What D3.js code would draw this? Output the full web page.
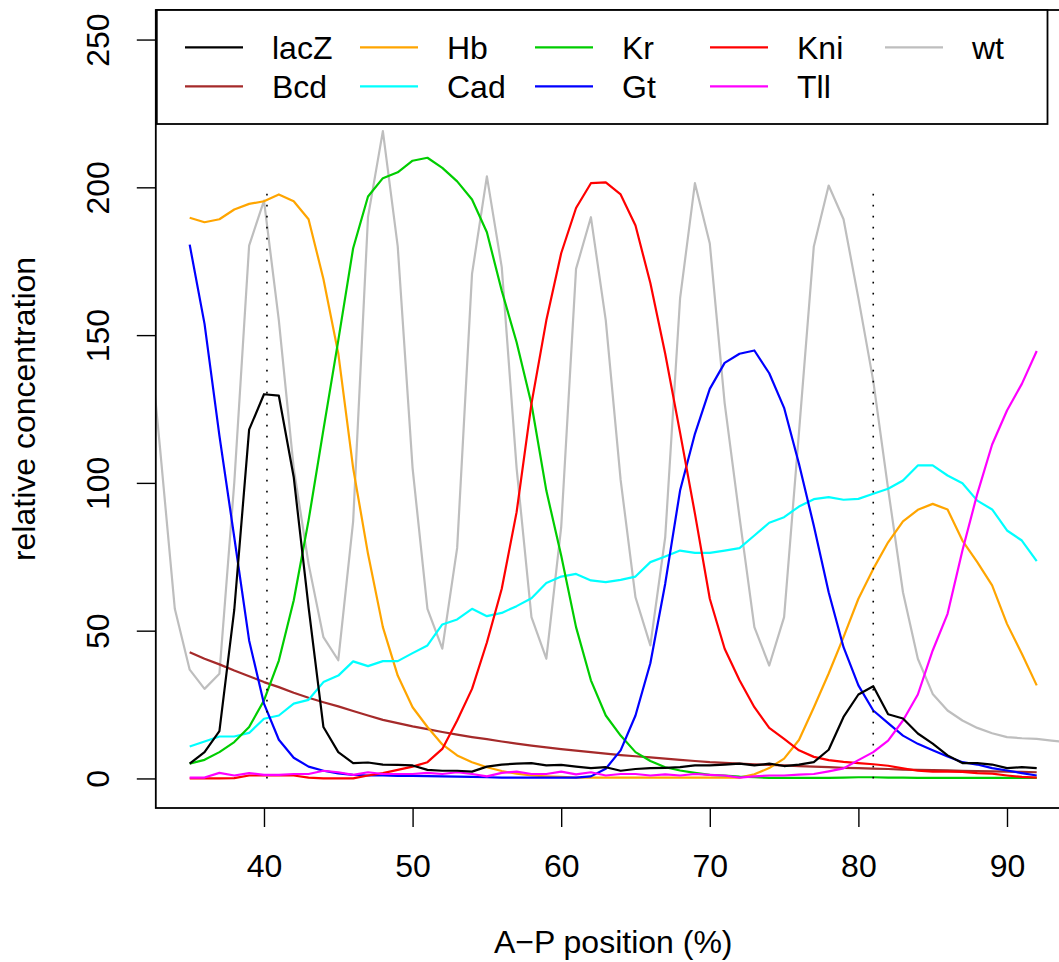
<!DOCTYPE html>
<html>
<head>
<meta charset="utf-8">
<script src="https://d3js.org/d3.v7.min.js"></script>
<style>
  body { margin: 0; background: #fff; }
  text { font-family: "Liberation Sans", Arial, sans-serif; }
</style>
</head>
<body>
<div id="chart"></div>
<script>
// A-P positions (%) of the measured nuclei
const positions = d3.range(35, 93);
const wtPositions = d3.range(32, 95);

// relative concentrations
const lacZ = [5.0, 8.9, 16, 57, 118, 130, 129.5, 102, 58, 17.4, 8.9, 5.2, 5.4, 4.7, 4.6, 4.4, 2.9, 2.6, 2.6, 2.3,
  4.0, 4.7, 5.0, 5.2, 4.4, 4.6, 4.0, 3.5, 3.8, 2.6, 3.2, 3.5, 3.6, 3.8, 4.4, 4.4, 4.7, 5.0, 4.4, 5.0,
  4.2, 4.7, 5.5, 9.7, 20.8, 28.4, 31.2, 21.7, 20.3, 15.2, 11.8, 7.8, 5.2, 5.2, 4.7, 3.5, 3.8, 3.5];
const Bcd = [42.7, 40.5, 38.6, 36.5, 34.6, 32.6, 30.9, 29.0, 27.3, 25.8, 24.4, 22.8, 21.3, 19.8, 18.7, 17.6, 16.7, 15.7, 14.8, 14.0,
  13.3, 12.5, 11.8, 11.1, 10.5, 9.9, 9.4, 8.9, 8.4, 7.9, 7.5, 7.1, 6.7, 6.3, 5.9, 5.5, 5.3, 5.0, 4.8, 4.6,
  4.4, 4.2, 4.0, 3.8, 3.6, 3.5, 3.3, 3.2, 3.0, 2.9, 2.8, 2.7, 2.6, 2.5, 2.4, 2.3, 2.2, 2.1];
const Hb = [189.7, 188.2, 189.2, 192.5, 194.4, 195.3, 197.6, 195.3, 189.2, 169, 143.8, 105, 76, 51.2, 34.8, 24.1, 17.4, 11.5, 7.8, 5.5,
  3.8, 2.5, 1.6, 1.0, 0.7, 0.5, 0.3, 0.3, 0.3, 0.3, 0.3, 0.3, 0.3, 0.3, 0.3, 0.3, 0.3, 0.3, 1.4, 3.5,
  6.7, 13, 24, 35.5, 47.8, 60.8, 70.9, 79.9, 87, 90.9, 92.9, 91, 80.5, 73.2, 65.3, 52.3, 42.2, 31.5];
const Cad = [10.8, 12.5, 14.2, 14.2, 15.4, 20.2, 21.3, 25.3, 26.6, 32.6, 34.8, 39.6, 38.0, 39.7, 39.7, 42.4, 45, 52.1, 53.8, 57.4,
  54.9, 56, 58.3, 61, 66.1, 68.3, 69.2, 67, 66.4, 67.2, 68.3, 73.2, 75.1, 77.1, 76.3, 76.3, 77.1, 77.9, 82.2, 86.5,
  88.4, 92, 94.5, 95.2, 94.3, 94.6, 96.3, 98, 100.8, 105.9, 105.9, 102.5, 99.9, 94, 91, 83.9, 80.5, 73.5];
const Kr = [5.0, 6.3, 8.9, 12.3, 17.4, 26.4, 39.9, 60.2, 87.3, 118, 148.2, 179.4, 196.9, 203.1, 205.1, 209, 210, 206.6, 202, 195.9,
  184.8, 165, 147.6, 126.7, 97.4, 75.4, 51.2, 33.2, 21.3, 14.5, 8.9, 5.9, 3.8, 2.7, 1.9, 1.2, 1.0, 0.6, 0.4, 0.2,
  0.2, 0.2, 0.2, 0.2, 0.3, 0.4, 0.4, 0.3, 0.3, 0.2, 0.2, 0.2, 0.2, 0.2, 0.2, 0.2, 0.2, 0.2];
const Gt = [180.6, 153.8, 116, 81.6, 46.7, 25.3, 13.1, 7.0, 4.0, 2.6, 1.7, 1.2, 1.0, 1.0, 0.9, 0.9, 0.8, 0.7, 0.6, 0.5,
  0.4, 0.3, 0.3, 0.3, 0.3, 0.3, 0.3, 0.7, 3.3, 9.5, 21.3, 39, 65.9, 97.4, 116.6, 131.8, 140.6, 143.7, 144.8, 137.1,
  125.4, 106.5, 85.5, 63, 44.4, 31.5, 23, 18.7, 14.5, 11.7, 9.5, 7.4, 5.5, 4.7, 3.5, 2.7, 1.8, 1.0];
const Kni = [0, 0, 0, 0.1, 1.0, 1.0, 1.0, 1.0, 0.3, 0, 0, 0, 1.0, 1.8, 2.9, 4.0, 5.5, 10, 19.6, 30.3,
  46, 64.2, 90.1, 126.8, 155, 177.7, 193, 201.4, 201.7, 197.6, 187.1, 167.6, 143.7, 117, 89.6, 60.8, 43.9, 33.2, 24.1, 17.1,
  13.4, 9.5, 7.3, 6.2, 5.6, 5.2, 4.8, 4.3, 3.4, 2.6, 2.3, 2.3, 2.2, 1.8, 1.6, 1.0, 0.5, 0.3];
const Tll = [0.3, 0.3, 1.9, 1.0, 1.8, 1.2, 1.2, 1.5, 1.5, 2.6, 2.1, 1.2, 2.1, 1.5, 1.5, 1.5, 1.9, 1.5, 2.1, 1.5,
  0.7, 1.9, 2.3, 1.5, 1.5, 2.3, 1.4, 2.1, 1.0, 1.5, 1.5, 1.0, 1.4, 1.0, 1.5, 1.2, 1.0, 0.3, 0.7, 1.0,
  1.0, 1.3, 1.5, 2.4, 3.4, 6.2, 8.9, 12.8, 19.6, 28.4, 43.3, 55.7, 77.1, 96.3, 113, 124.5, 133.5, 144.6];
const wt = [165, 112, 57.4, 36.8, 30.3, 35.4, 100, 180.3, 195.5, 155, 105, 72.6, 47.8, 40, 87, 190, 219, 180, 105, 57.4,
  43.9, 78, 170.7, 203.7, 173, 105, 54.6, 40.5, 85, 172.4, 189.9, 155, 101, 61.3, 45, 81.6, 162.4, 201.4, 181, 127,
  88.4, 51.2, 38.2, 54.6, 117, 180, 200.6, 189.2, 162.5, 134.5, 98, 63, 40.5, 28.6, 23, 19.6, 17.1, 15.3, 14,
  13.6, 13.4, 12.8, 12.3];

// dotted reference positions
const markers = [40.2, 81];
const markerTop = 200;

const xTicks = [40, 50, 60, 70, 80, 90];
const yTicks = [0, 50, 100, 150, 200, 250];

// legend order is column-wise, like R's legend(ncol = 5)
const series = [
  {name: "lacZ", values: lacZ, color: "#000000"},
  {name: "Bcd", values: Bcd, color: "#A52A2A"},
  {name: "Hb", values: Hb, color: "#FFA500"},
  {name: "Cad", values: Cad, color: "#00FFFF"},
  {name: "Kr", values: Kr, color: "#00CD00"},
  {name: "Gt", values: Gt, color: "#0000FF"},
  {name: "Kni", values: Kni, color: "#FF0000"},
  {name: "Tll", values: Tll, color: "#FF00FF"},
  {name: "wt", values: wt, color: "#BEBEBE", pos: wtPositions}
];

const W = 1059, H = 962;
const margin = {top: 10, left: 155.8, right: 1070.6, bottom: 808};

const svg = d3.select("#chart")
  .append("svg")
    .attr("width", W)
    .attr("height", H);

// R style axis limits: extend by 4%
const xlim = [35, 92], ylim = [0, 250];
const dx = (xlim[1] - xlim[0]) * 0.04, dy = (ylim[1] - ylim[0]) * 0.04;
const x = d3.scaleLinear().domain([xlim[0] - dx, xlim[1] + dx]).range([margin.left, margin.right]);
const y = d3.scaleLinear().domain([ylim[0] - dy, ylim[1] + dy]).range([margin.bottom, margin.top]);

svg.append("defs").append("clipPath")
    .attr("id", "plotclip")
  .append("rect")
    .attr("x", margin.left)
    .attr("y", margin.top)
    .attr("width", margin.right - margin.left)
    .attr("height", margin.bottom - margin.top);

const plot = svg.append("g").attr("clip-path", "url(#plotclip)");

const line = d3.line()
  .x(d => x(d[0]))
  .y(d => y(d[1]));

// wt first so it sits behind the others
const drawOrder = ["wt", "Bcd", "Hb", "Cad", "Kr", "Gt", "Kni", "Tll", "lacZ"];
drawOrder.forEach(name => {
  const s = series.find(d => d.name === name);
  const xs = s.pos || positions;
  plot.append("path")
    .datum(s.values.map((v, i) => [xs[i], v]))
    .attr("fill", "none")
    .attr("stroke", s.color)
    .attr("stroke-width", 2.2)
    .attr("stroke-linejoin", "round")
    .attr("d", line);
});

// dotted vertical markers
plot.selectAll("line.marker")
  .data(markers)
  .enter()
  .append("line")
    .attr("class", "marker")
    .attr("x1", d => x(d))
    .attr("x2", d => x(d))
    .attr("y1", y(0))
    .attr("y2", y(markerTop))
    .attr("stroke", "#000")
    .attr("stroke-width", 1.6)
    .attr("stroke-dasharray", "1.6 9.4");

// axes
const xAxis = svg.append("g")
  .attr("transform", "translate(0," + margin.bottom + ")")
  .call(d3.axisBottom(x).tickValues(xTicks).tickSize(19).tickPadding(0));
xAxis.select(".domain").remove();
xAxis.selectAll("line").attr("stroke", "#000").attr("stroke-width", 1.4);
xAxis.selectAll("text")
  .attr("y", 69)
  .attr("dy", null)
  .attr("fill", "#000")
  .style("font-size", "32px");

const yAxis = svg.append("g")
  .attr("transform", "translate(" + margin.left + ",0)")
  .call(d3.axisLeft(y).tickValues(yTicks).tickSize(19));
yAxis.select(".domain").remove();
yAxis.selectAll("line").attr("stroke", "#000").attr("stroke-width", 1.4);
yAxis.selectAll("text")
  .attr("x", null)
  .attr("dy", null)
  .attr("transform", "translate(" + (108.5 - margin.left) + ",0) rotate(-90)")
  .attr("text-anchor", "middle")
  .attr("fill", "#000")
  .style("font-size", "32px");
xAxis.attr("font-family", null).attr("font-size", null);
yAxis.attr("font-family", null).attr("font-size", null);

// plot box
svg.append("rect")
  .attr("x", margin.left)
  .attr("y", margin.top)
  .attr("width", margin.right - margin.left)
  .attr("height", margin.bottom - margin.top)
  .attr("fill", "none")
  .attr("stroke", "#000")
  .attr("stroke-width", 1.8);

// axis titles, centred on the plot region
svg.append("text")
  .attr("x", (margin.left + margin.right) / 2)
  .attr("y", 953)
  .attr("text-anchor", "middle")
  .style("font-size", "32px")
  .text("A\u2212P position (%)");

svg.append("text")
  .attr("transform", "translate(35," + (margin.top + margin.bottom) / 2 + ") rotate(-90)")
  .attr("text-anchor", "middle")
  .style("font-size", "32px")
  .text("relative concentration");

// legend
const legend = svg.append("g");
legend.append("rect")
  .attr("x", margin.left + 1)
  .attr("y", margin.top)
  .attr("width", 1047.5 - margin.left - 1)
  .attr("height", 114)
  .attr("fill", "#fff")
  .attr("stroke", "#000")
  .attr("stroke-width", 1.8);

const colX = d3.scaleLinear().domain([0, 1]).range([185, 360]);
const rowY = d3.scaleLinear().domain([0, 1]).range([47.3, 86.3]);

const item = legend.selectAll("g.item")
  .data(series)
  .enter()
  .append("g")
    .attr("class", "item")
    .attr("transform", (d, i) => "translate(" + colX(Math.floor(i / 2)) + "," + rowY(i % 2) + ")");

item.append("line")
  .attr("x1", 0)
  .attr("x2", 58)
  .attr("stroke", d => d.color)
  .attr("stroke-width", 2.2);

item.append("text")
  .attr("x", 87)
  .attr("y", 11.6)
  .style("font-size", "32px")
  .text(d => d.name);
</script>
</body>
</html>
